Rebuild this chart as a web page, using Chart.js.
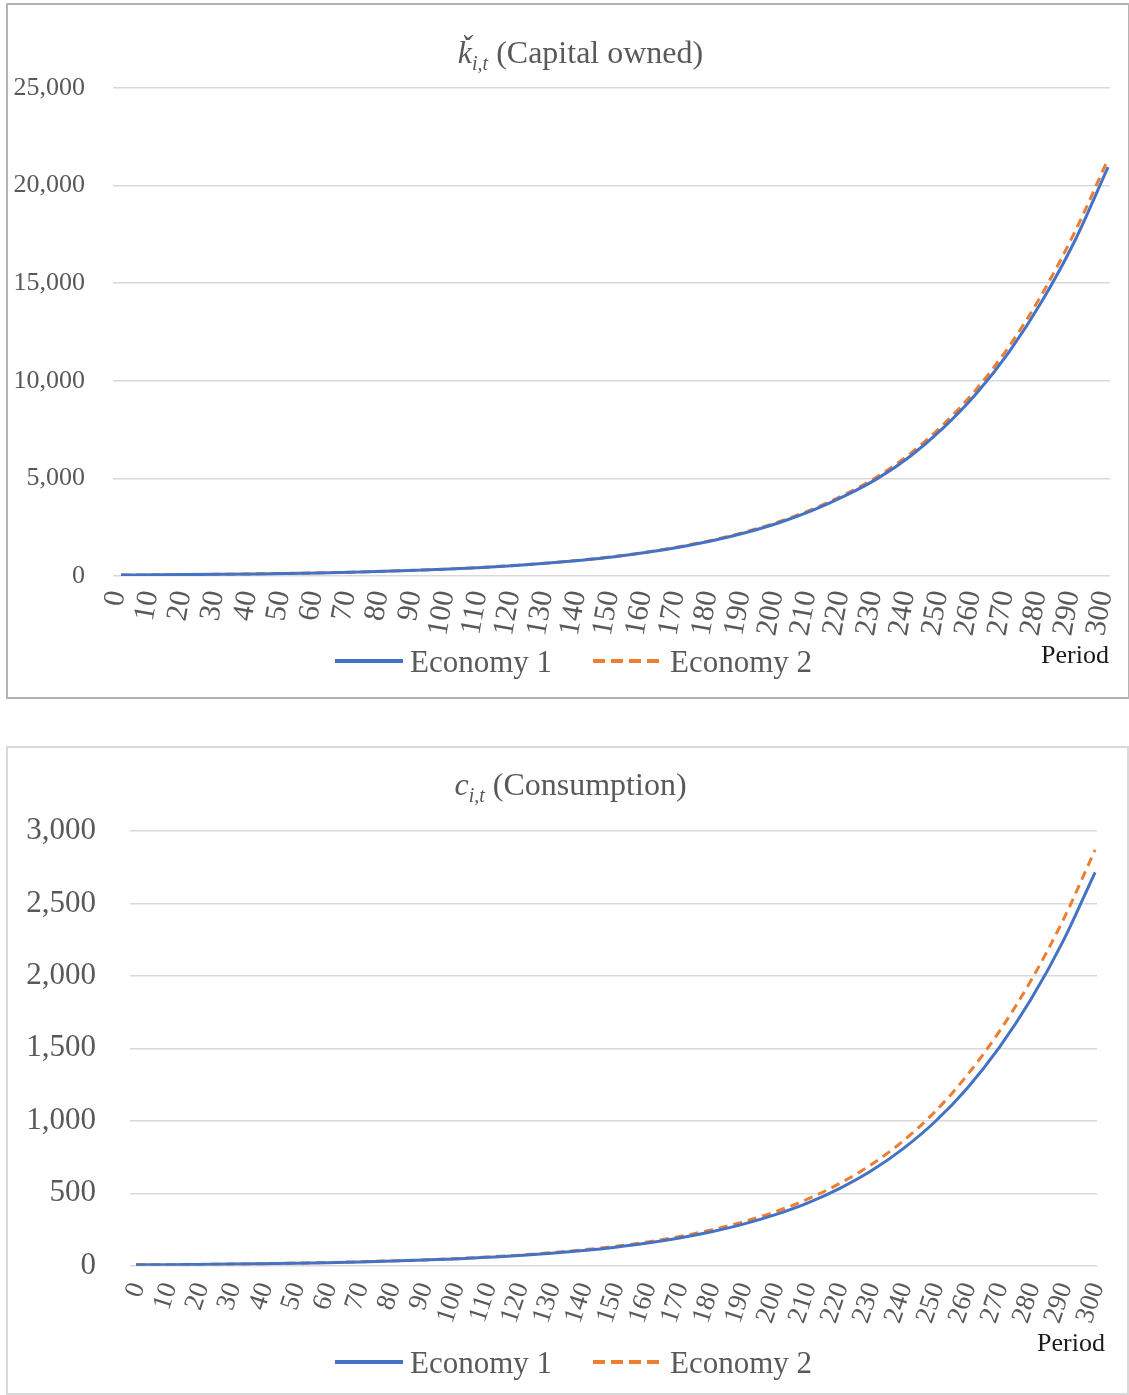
<!DOCTYPE html>
<html>
<head>
<meta charset="utf-8">
<script src="https://cdn.jsdelivr.net/npm/chart.js@4.4.1/dist/chart.umd.min.js"></script>
<style>
  html, body { margin: 0; padding: 0; background: #fff; overflow: hidden; }
  body { width: 1129px; height: 1395px; position: relative; font-family: "Liberation Serif", "Times New Roman", serif; }
  .box { position: absolute; box-sizing: border-box; }
  #box1 { left: 6px; top: 3px; width: 1123px; height: 696px; border: 2px solid #b4b4b4; border-right: 1px solid #b4b4b4; }
  #box2 { left: 6px; top: 746px; width: 1123px; height: 649px; border: 2px solid #d9d9d9; }
  canvas { position: absolute; left: 0; }
  #c1 { top: 0; }
  #c2 { top: 745px; }
  .title { position: absolute; left: 0; text-align: center; font-size: 32px; line-height: 32px; color: #595959; white-space: nowrap; }
  .title sub { font-size: 20px; vertical-align: -7px; }
  .leg { position: absolute; font-size: 31px; line-height: 31px; color: #595959; white-space: nowrap; }
  .period { position: absolute; font-size: 26px; line-height: 26px; color: #1a1a1a; white-space: nowrap; }
  svg { position: absolute; }
</style>
</head>
<body>
<div class="box" id="box1"></div>
<div class="box" id="box2"></div>
<canvas id="c1" width="1129" height="700"></canvas>
<canvas id="c2" width="1129" height="650"></canvas>

<div class="title" style="top:36px;width:1161px"><i>ǩ</i><sub><i>i,t</i></sub> (Capital owned)</div>
<div class="title" style="top:768px;width:1141px"><i>c</i><sub><i>i,t</i></sub> (Consumption)</div>

<div class="period" style="top:642px;right:20px">Period</div>
<div class="period" style="top:1330px;right:24px">Period</div>

<div id="legends"></div>

<script>
// x axis categories (period), one value every 10 periods
const periods = [0, 10, 20, 30, 40, 50, 60, 70, 80, 90, 100, 110, 120, 130, 140, 150,
  160, 170, 180, 190, 200, 210, 220, 230, 240, 250, 260, 270, 280, 290, 300];

// capital owned
const capitalEcon1 = [47, 58, 71, 87, 107, 131, 160, 197, 240, 295, 360, 440, 540, 660, 810, 990,
  1215, 1490, 1820, 2230, 2730, 3350, 4100, 5000, 6150, 7600, 9350, 11500, 14100, 17200, 20950];
const capitalEcon2 = [47, 58, 71, 87, 107, 131, 161, 198, 242, 297, 363, 444, 545, 667, 819, 1002,
  1231, 1511, 1848, 2266, 2779, 3413, 4180, 5104, 6283, 7772, 9571, 11783, 14462, 17658, 21360];

// consumption
const consEcon1 = [6, 7, 9, 11, 14, 17, 21, 26, 32, 39, 47, 58, 70, 86, 105, 128,
  156, 191, 234, 287, 352, 432, 532, 655, 808, 995, 1225, 1505, 1840, 2240, 2715];
const consEcon2 = [6, 7, 9, 11, 14, 18, 22, 27, 33, 40, 49, 60, 73, 90, 110, 134,
  164, 201, 247, 303, 373, 459, 566, 698, 862, 1065, 1315, 1615, 1970, 2385, 2870];

const seriesNames = ['Economy 1', 'Economy 2'];
const BLUE = '#4472c4';
const ORANGE = '#ed7d31';
const GRID = '#d9d9d9';
const TXT = '#595959';
const FONT = '"Liberation Serif", "Times New Roman", serif';

function toPoints(vals) {
  return periods.map((p, i) => ({ x: p, y: vals[i] }));
}

function makeChart(id, s1, s2, cfg) {
  return new Chart(document.getElementById(id), {
    type: 'line',
    data: {
      datasets: [
        { label: seriesNames[0], data: toPoints(s1), borderColor: BLUE, borderWidth: 3,
          pointRadius: 0, cubicInterpolationMode: 'monotone' },
        { label: seriesNames[1], data: toPoints(s2), borderColor: ORANGE, borderWidth: 3,
          borderDash: [9, 6], pointRadius: 0, cubicInterpolationMode: 'monotone' }
      ]
    },
    options: {
      responsive: false,
      animation: false,
      devicePixelRatio: 1,
      layout: { padding: { top: cfg.top, right: cfg.right, left: 0, bottom: 0 } },
      plugins: { legend: { display: false }, title: { display: false }, tooltip: { enabled: false } },
      scales: {
        x: {
          type: 'linear',
          min: cfg.xMin,
          max: 300.6,
          grid: { display: false, drawTicks: false },
          border: { display: false },
          afterBuildTicks: (s) => { s.ticks = periods.map(v => ({ value: v })); },
          afterFit: (s) => { s.height = cfg.xHeight; s.paddingLeft = 0; s.paddingRight = 0; },
          ticks: {
            autoSkip: false,
            minRotation: cfg.rot,
            maxRotation: cfg.rot,
            labelOffset: cfg.labelOffset,
            padding: cfg.xPad,
            color: TXT,
            font: { family: FONT, size: cfg.xFont },
            callback: (v) => String(v)
          }
        },
        y: {
          min: 0,
          max: cfg.yMax,
          grid: { color: GRID, lineWidth: 1.5, drawTicks: false },
          border: { display: false },
          afterFit: (s) => { s.width = cfg.yWidth; },
          ticks: {
            stepSize: cfg.yStep,
            padding: cfg.yPad,
            color: TXT,
            font: { family: FONT, size: cfg.yFont }
          }
        }
      }
    }
  });
}

// top: capital owned
makeChart('c1', capitalEcon1, capitalEcon2, {
  top: 88, right: 19, yWidth: 113, xHeight: 124,
  xMin: -2.43, rot: 80, labelOffset: -4, xPad: 12, xFont: 30,
  yMax: 25000, yStep: 5000, yPad: 28, yFont: 26
});

// bottom: consumption
makeChart('c2', consEcon1, consEcon2, {
  top: 86, right: 32, yWidth: 130, xHeight: 129.3,
  xMin: -1.88, rot: 72, labelOffset: 2, xPad: 13, xFont: 27,
  yMax: 3000, yStep: 500, yPad: 34, yFont: 31
});

// legends (drawn as page elements under each chart)
function addLegend(top) {
  const host = document.getElementById('legends');
  const y = top + 15;
  host.insertAdjacentHTML('beforeend',
    `<svg style="left:335px;top:${y - 3}px" width="68" height="6"><line x1="0" y1="3" x2="68" y2="3" stroke="${BLUE}" stroke-width="4"/></svg>` +
    `<div class="leg" style="left:410px;top:${top}px">${seriesNames[0]}</div>` +
    `<svg style="left:593px;top:${y - 3}px" width="68" height="6"><line x1="0" y1="3" x2="68" y2="3" stroke="${ORANGE}" stroke-width="4" stroke-dasharray="12 6"/></svg>` +
    `<div class="leg" style="left:670px;top:${top}px">${seriesNames[1]}</div>`);
}
addLegend(646);
addLegend(1347);
</script>
</body>
</html>
